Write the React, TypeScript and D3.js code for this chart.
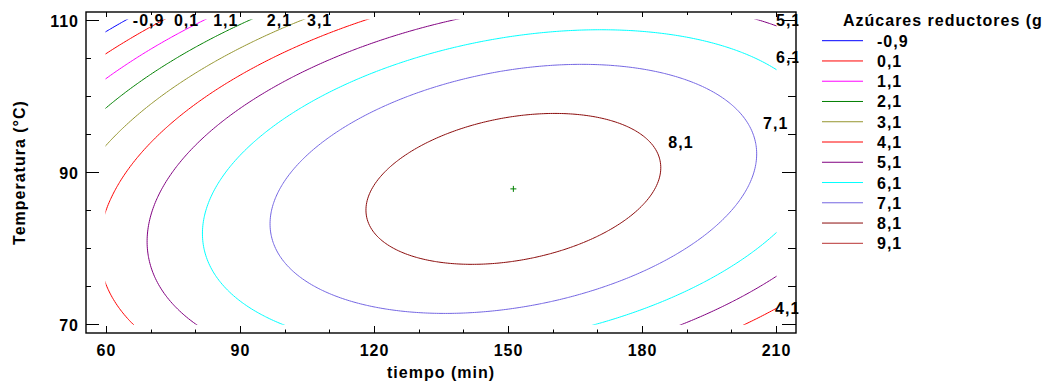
import React, { useMemo } from "react";
import * as d3 from "d3";

// ---- Data ----
const LEVELS = [-0.9, 0.1, 1.1, 2.1, 3.1, 4.1, 5.1, 6.1, 7.1, 8.1, 9.1];
const LEVEL_LABELS = ["-0,9", "0,1", "1,1", "2,1", "3,1", "4,1", "5,1", "6,1", "7,1", "8,1", "9,1"];
const LEVEL_COLORS = [
  "#0000ff", "#ff0000", "#ff00ff", "#008000", "#959530", "#ff0000",
  "#800080", "#00ffff", "#7466e2", "#8b0c0c", "#b83232",
];
// response-surface model: optimum, peak value, quadratic coefficients
const OPTIMUM = [151.2, 87.8]; // tiempo (min), temperatura (°C)
const PEAK = 8.68;
const QUAD = [0.000578, 0.0064, -0.00054]; // t², T², t·T
// contour label anchors (data units), one per level (9,1 has none)
const LABEL_TIME = [66.0, 75.2, 84.0, 96.0, 105.0, 209.8, 210.0, 210.0, 207.1, 185.9];
const LABEL_TEMP = [110, 110, 110, 110, 110, 72.2, 110, 105.2, 96.5, 93.9];

const X_TICKS = [60, 90, 120, 150, 180, 210];
const X_MINOR = [60, 70, 80, 90, 100, 110, 120, 130, 140, 150, 160, 170, 180, 190, 200, 210];
const Y_TICKS = [70, 90, 110];
const Y_MINOR = [70, 75, 80, 85, 90, 95, 100, 105, 110];
const X_TITLE = "tiempo (min)";
const Y_TITLE = "Temperatura (°C)";
const LEGEND_TITLE = "Azúcares reductores (g";

// ---- Layout ----
const W = 1051;
const H = 385;
const FRAME = { left: 86, right: 796, top: 12, bottom: 333 };
const FONT = "'Liberation Sans', Arial, Helvetica, sans-serif";

const xScale = d3.scaleLinear().domain([60, 210]).range([106, 776]);
const yScale = d3.scaleLinear().domain([70, 110]).range([324.3, 20]);

function model(t: number, T: number) {
  const dx = t - OPTIMUM[0];
  const dy = T - OPTIMUM[1];
  return PEAK - (QUAD[0] * dx * dx + QUAD[1] * dy * dy + 2 * QUAD[2] * dx * dy);
}

export default function App() {
  const paths = useMemo(() => {
    const t0 = 50, t1 = 220, dt = 0.5;
    const T0 = 64, T1 = 116, dT = 0.25;
    const nx = Math.round((t1 - t0) / dt) + 1;
    const ny = Math.round((T1 - T0) / dT) + 1;
    const values = new Array(nx * ny);
    for (let j = 0; j < ny; j++) {
      for (let i = 0; i < nx; i++) {
        values[j * nx + i] = model(t0 + i * dt, T0 + j * dT);
      }
    }
    const contours = d3.contours().size([nx, ny]).thresholds(LEVELS)(values);
    const proj = d3.geoTransform({
      point(this: any, cx: number, cy: number) {
        this.stream.point(
          xScale(t0 + (cx - 0.5) * dt),
          yScale(T0 + (cy - 0.5) * dT)
        );
      },
    });
    const path = d3.geoPath(proj);
    return contours.map((c) => path(c as any) || "");
  }, []);

  const x60 = xScale(60), x210 = xScale(210);
  const y110 = yScale(110), y70 = yScale(70);

  const textStyle = {
    fontFamily: FONT,
    fontWeight: 700,
    fontSize: 16,
    letterSpacing: 1,
  } as const;

  const legendY = (i: number) => 40.7 + i * 20.26;

  return (
    <svg
      width={W}
      height={H}
      style={{ position: "absolute", left: 0, top: 0, background: "#fff" }}
    >
      <defs>
        <clipPath id="plotClip">
          <rect x={x60 - 0.5} y={y110 - 0.5} width={x210 - x60 + 1} height={y70 - y110 + 1} />
        </clipPath>
        <clipPath id="labelClip">
          <rect x={0} y={0} width={798.5} height={H} />
        </clipPath>
      </defs>
      <rect x={0} y={0} width={W} height={H} fill="#fff" />

      {/* contour lines */}
      <g clipPath="url(#plotClip)" fill="none" strokeWidth={1}>
        {paths.map((d, i) => (
          <path key={i} d={d} stroke={LEVEL_COLORS[i]} />
        ))}
      </g>

      {/* optimum marker */}
      <g stroke="#008000" strokeWidth={1}>
        <line x1={xScale(OPTIMUM[0]) - 3} x2={xScale(OPTIMUM[0]) + 3} y1={yScale(OPTIMUM[1])} y2={yScale(OPTIMUM[1])} />
        <line x1={xScale(OPTIMUM[0])} x2={xScale(OPTIMUM[0])} y1={yScale(OPTIMUM[1]) - 3} y2={yScale(OPTIMUM[1]) + 3} />
      </g>

      {/* contour labels */}
      <g clipPath="url(#labelClip)" style={textStyle} fill="#000">
        {LABEL_TIME.map((t, i) => (
          <text key={i} x={xScale(t)} y={yScale(LABEL_TEMP[i]) + 6}>
            {LEVEL_LABELS[i]}
          </text>
        ))}
      </g>

      {/* frame */}
      <rect
        x={FRAME.left}
        y={FRAME.top}
        width={FRAME.right - FRAME.left}
        height={FRAME.bottom - FRAME.top}
        fill="none"
        stroke="#000"
        strokeWidth={1.4}
      />

      {/* ticks */}
      <g stroke="#000" strokeWidth={1}>
        {X_MINOR.map((v) => {
          const major = X_TICKS.includes(v);
          const x = Math.round(xScale(v)) + 0.5;
          return (
            <g key={"x" + v}>
              <line x1={x} x2={x} y1={FRAME.bottom} y2={FRAME.bottom - (major ? 7 : 3.5)} />
              <line x1={x} x2={x} y1={FRAME.top} y2={FRAME.top + (major ? 5 : 3)} />
            </g>
          );
        })}
        {Y_MINOR.map((v) => {
          const major = Y_TICKS.includes(v);
          const y = Math.round(yScale(v)) + 0.5;
          return (
            <g key={"y" + v}>
              <line x1={FRAME.left} x2={FRAME.left + (major ? 13 : 5)} y1={y} y2={y} />
              <line x1={FRAME.right} x2={FRAME.right - (major ? 14 : 8)} y1={y} y2={y} />
            </g>
          );
        })}
      </g>

      {/* tick labels */}
      <g style={textStyle} fill="#000">
        {X_TICKS.map((v) => (
          <text key={v} x={xScale(v) + 0.5} y={356} textAnchor="middle">
            {v}
          </text>
        ))}
        {Y_TICKS.map((v) => (
          <text key={v} x={79} y={yScale(v) + 6.5} textAnchor="end">
            {v}
          </text>
        ))}
      </g>

      {/* axis titles */}
      <g style={textStyle} fill="#000">
        <text x={(FRAME.left + FRAME.right) / 2} y={378} textAnchor="middle">
          {X_TITLE}
        </text>
        <text
          transform={`translate(25,${(FRAME.top + FRAME.bottom) / 2}) rotate(-90)`}
          textAnchor="middle"
        >
          {Y_TITLE}
        </text>
      </g>

      {/* legend */}
      <g style={textStyle} fill="#000">
        <text x={843} y={26}>{LEGEND_TITLE}</text>
        {LEVELS.map((v, i) => (
          <g key={v}>
            <line x1={822} x2={863} y1={legendY(i)} y2={legendY(i)} stroke={LEVEL_COLORS[i]} strokeWidth={1} />
            <text x={877} y={legendY(i) + 6}>{LEVEL_LABELS[i]}</text>
          </g>
        ))}
      </g>
    </svg>
  );
}
